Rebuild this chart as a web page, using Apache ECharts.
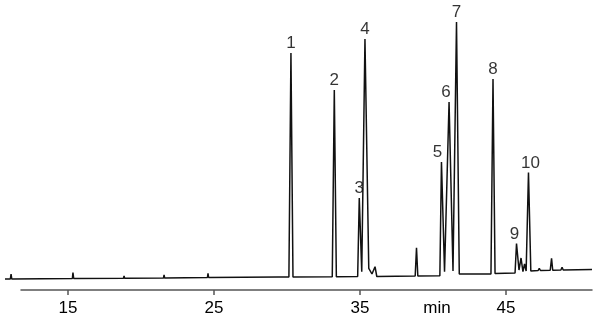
<!DOCTYPE html>
<html>
<head>
<meta charset="utf-8">
<script src="https://cdn.jsdelivr.net/npm/echarts@6/dist/echarts.min.js"></script>
<style>
html,body{margin:0;padding:0;background:#fff;}
#chart{width:600px;height:317px;}
</style>
</head>
<body>
<div id="chart"></div>
<script>
// Detector trace: retention time (min) and signal (arbitrary units)
const traceTimes = [
  10.685, 11.05, 11.10, 11.15,
  15.30, 15.34, 15.39,
  18.80, 18.84, 18.88,
  21.54, 21.58, 21.62,
  24.55, 24.59, 24.63,
  29.40, 29.52, 29.64,
  30.13, 30.27, 30.41,
  33.10, 33.24, 33.38,
  34.84, 34.95, 35.12, 35.34, 35.60, 35.82, 36.03, 36.15,
  38.78, 38.87, 38.96,
  40.47, 40.58, 40.79, 41.10, 41.37, 41.61, 41.80,
  42.95, 43.08, 43.21,
  43.97, 44.11, 44.25,
  45.62, 45.72, 45.89, 46.03, 46.16, 46.27, 46.38, 46.54, 46.70,
  47.20, 47.28, 47.36,
  48.03, 48.12, 48.20,
  48.76, 48.84, 48.92,
  50.89
];
const traceSignals = [
  1.0, 1.0, 6.0, 1.0,
  1.5, 7.3, 1.5,
  1.8, 4.0, 1.8,
  2.0, 5.0, 2.0,
  2.5, 6.7, 2.5,
  3.0, 4.5, 3.0,
  3.0, 227, 3.0,
  3.2, 190, 3.2,
  3.5, 82, 8.3, 241, 11.7, 6.0, 13.3, 3.5,
  4.0, 32.3, 4.0,
  4.2, 118, 8.3, 178, 9.0, 258, 6.0,
  6.0, 7.3, 6.0,
  6.0, 201, 6.5,
  7.0, 36.5, 10.0, 22.0, 8.3, 16.0, 9.0, 107.5, 9.0,
  9.5, 11.7, 9.5,
  9.8, 21.7, 9.8,
  10.0, 12.7, 10.0,
  10.5
];

// Numbered peaks
const peakLabels = ['1','2','3','4','5','6','7','8','9','10'];
const peakTimes = [30.27, 33.24, 34.95, 35.34, 40.58, 41.10, 41.61, 44.11, 45.72, 46.54];
const peakHeights = [227, 190, 82, 241, 118, 178, 258, 201, 36.5, 107.5];

// Time axis
const tickValues = [15, 25, 35, 45];
const unitLabel = 'min';
const unitPosition = 40.27;

// ---- layout / style (not data) ----
const PX_PER_MIN = 14.6;
const X15 = 68;             // pixel of the 15 min tick
const TRACE_LEFT = 5, TRACE_RIGHT = 592;
const AXIS_LEFT = 21, AXIS_RIGHT = 592;
const toTime = px => 15 + (px - X15) / PX_PER_MIN;
const labelNudge = {'5': -4, '6': -3, '9': -2, '10': 2};
const FONT = 'Arial, "Liberation Sans", Helvetica, sans-serif';

const traceData = traceTimes.map((t, i) => [t, traceSignals[i]]);
const peakData = peakTimes.map((t, i) => ({
  value: [t, peakHeights[i]],
  name: peakLabels[i],
  label: {offset: [labelNudge[peakLabels[i]] || 0, 0]}
}));

const chart = echarts.init(document.getElementById('chart'), null, {renderer: 'canvas'});
chart.setOption({
  animation: false,
  backgroundColor: '#fff',
  grid: [
    {left: TRACE_LEFT, right: 600 - TRACE_RIGHT, top: 0, bottom: 37},
    {left: AXIS_LEFT, right: 600 - AXIS_RIGHT, top: 250, bottom: 25}
  ],
  xAxis: [
    {gridIndex: 0, type: 'value', min: toTime(TRACE_LEFT), max: toTime(TRACE_RIGHT), show: false},
    {
      gridIndex: 1, type: 'value', min: toTime(AXIS_LEFT), max: toTime(AXIS_RIGHT),
      position: 'bottom',
      splitLine: {show: false},
      axisLine: {show: true, lineStyle: {color: '#555', width: 1.5}},
      axisTick: {show: true, length: 5, lineStyle: {color: '#555', width: 1.5}, customValues: tickValues},
      axisLabel: {
        show: true, margin: 10, color: '#000', fontSize: 17, fontFamily: FONT,
        customValues: tickValues.concat([unitPosition]),
        formatter: v => (Math.abs(v - unitPosition) < 1e-6 ? unitLabel : String(Math.round(v)))
      }
    }
  ],
  yAxis: [
    {gridIndex: 0, type: 'value', min: 0, max: 280, show: false},
    {gridIndex: 1, type: 'value', min: 0, max: 1, show: false}
  ],
  series: [
    {
      type: 'line', xAxisIndex: 0, yAxisIndex: 0, data: traceData,
      symbol: 'none', smooth: false, sampling: null,
      lineStyle: {color: '#111', width: 1.5}
    },
    {
      type: 'scatter', xAxisIndex: 0, yAxisIndex: 0, data: peakData,
      symbolSize: 0, silent: true,
      label: {
        show: true, position: 'top', distance: 1,
        formatter: p => p.name, color: '#000', fontSize: 17, fontFamily: FONT
      }
    }
  ]
});
</script>
</body>
</html>
